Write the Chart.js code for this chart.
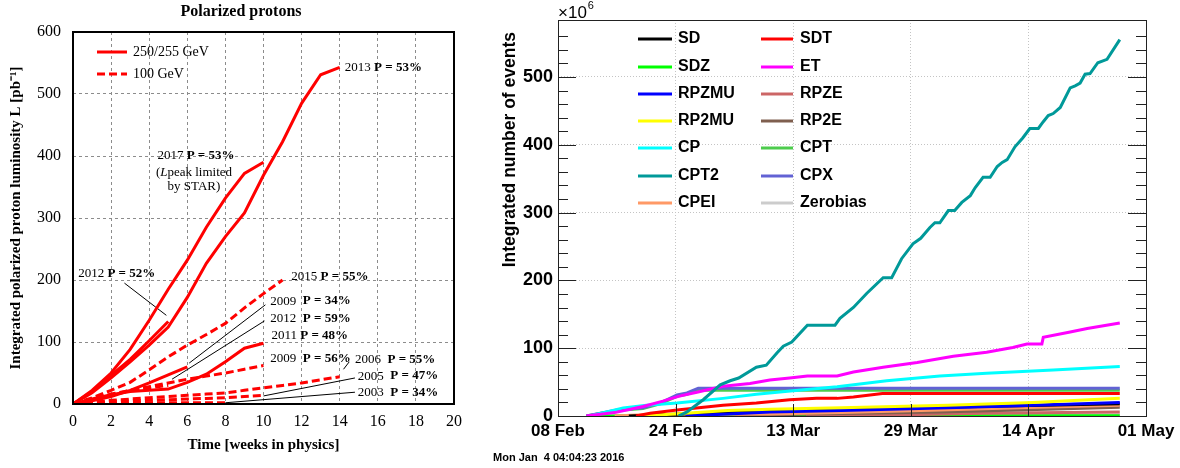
<!DOCTYPE html>
<html>
<head>
<meta charset="utf-8">
<script src="https://cdn.jsdelivr.net/npm/chart.js@4.4.1/dist/chart.umd.min.js"></script>
<style>
  body { margin: 0; background: #fff; width: 1180px; height: 468px; overflow: hidden; position: relative; }
  canvas { position: absolute; top: 0; }
  #lumi { left: 0; }
  #events { left: 470px; }
</style>
</head>
<body>
<canvas id="lumi" width="470" height="468"></canvas>
<canvas id="events" width="710" height="468"></canvas>
<script>
// ---- left panel: integrated luminosity [pb^-1] vs weeks in physics ----
var weeks = [0, 1, 2, 3, 4, 5, 6, 7, 8, 9, 10, 11, 12, 13, 14];

// 250/255 GeV runs (solid)
var run2013 = [0, 18, 42, 68, 95, 124, 172, 227, 270, 308, 369, 423, 485, 531, 543];
var run2017 = [0, 22, 50, 88, 135, 185, 232, 285, 332, 372, 390];
var run2012 = [0, 20, 46, 72, 102, 133];
var run2011 = [0, 8, 15, 20, 22, 24, 35, 48, 68, 90, 98];
var run2009 = [0, 5, 12, 22, 34, 47, 60];

// 100 GeV runs (dashed)
var run2015 = [0, 10, 22, 35, 55, 76, 95, 112, 130, 155, 178, 200];
var run2012b = [0, 8, 16, 22, 26, 30];
var run2009b = [0, 6, 14, 22, 28, 34, 40, 45, 50, 56, 62];
var run2006 = [0, 3, 6, 8, 10, 12, 14, 16, 18, 22, 26, 30, 34, 39, 44];
var run2005 = [0, 2, 4, 5, 6, 7, 8, 9, 10, 12, 14];
var run2003 = [0, 1, 1, 1, 2, 2, 2, 2, 2];

// ---- right panel: integrated number of events (x10^6), days since 08 Feb ----
var dateTicks = [0, 16.6, 33.2, 49.8, 66.4, 83];
var dateLabels = ['08 Feb', '24 Feb', '13 Mar', '29 Mar', '14 Apr', '01 May'];

var sd = [[10, 0], [20, 4], [35, 9], [50, 12], [65, 15], [79.3, 18]];
var sdt = [[11, 0], [13, 4], [16.8, 9], [23.3, 16], [28, 19], [32.7, 24], [36.5, 26], [39.4, 26], [41.7, 28], [45.8, 33], [79.3, 33]];
var sdz = [[4, 0], [79.3, 0.5]];
var et = [[4, 0], [8, 5], [12, 14], [14.8, 22], [17, 29], [19.6, 35], [23.3, 44], [27.1, 48], [29.9, 53], [32.7, 56], [35.2, 59],
          [39.4, 59], [41.7, 65], [45.9, 72], [50.7, 79], [55.8, 88], [60.5, 94], [64.2, 101], [66.2, 106], [68.3, 106],
          [68.5, 116], [72.3, 124], [74.7, 129], [79.3, 137]];
var rpzmu = [[18, 0], [24, 3], [29.9, 6], [40, 8], [55, 12], [65, 15], [79.3, 20]];
var rpze = [[35, 0], [50, 2], [60, 4], [79.3, 6]];
var rp2mu = [[12, 0], [18, 4], [24, 8], [29.9, 10], [40, 12], [55, 16], [67, 20], [79.3, 26]];
var rp2e = [[25, 0], [35, 3], [54, 6], [65, 9], [79.3, 13]];
var cp = [[4.5, 0], [9.2, 12], [12.5, 16], [16.8, 19], [23.3, 26], [28, 32], [32.8, 37], [39.4, 43], [46.4, 52], [53.9, 59],
          [60.5, 63], [69.9, 68], [79.3, 73]];
var cpt = [[4, 0], [8.3, 8], [12, 11], [14.4, 18], [16.8, 29], [18.2, 32], [19.8, 38], [79.3, 38]];
var cpt2 = [[17, 0], [18.2, 6], [20.5, 24], [22.9, 46], [24.3, 52], [25.5, 56], [28, 72], [29.4, 75], [30.9, 93], [31.8, 103],
            [33, 109], [35.2, 134], [39.1, 134], [39.8, 144], [41.7, 160], [43.6, 181], [45.9, 204], [47.1, 204], [48.5, 232],
            [50.1, 254], [51.2, 262], [52.5, 278], [53.2, 285], [53.9, 285], [55.1, 303], [56, 303], [57, 315], [58.2, 325],
            [58.9, 337], [60, 352], [61, 352], [62, 368], [62.7, 374], [63.4, 378], [64.5, 397], [65.6, 410], [66.6, 424],
            [67.8, 424], [68.5, 434], [69.2, 443], [69.9, 446], [70.9, 455], [72.3, 484], [73, 487], [73.7, 491], [74.4, 504],
            [75.1, 505], [76.2, 521], [77.5, 526], [79.3, 555]];
var cpx = [[4, 0], [8.3, 9], [12, 12], [14.4, 19], [16.8, 31], [18.2, 34], [19.8, 41], [79.3, 41]];
var cpei = [[8, 0], [12, 2], [30, 3], [40, 5], [54, 9], [65, 12], [79.3, 16]];
var zerobias = [[4, 0], [40, 1], [79.3, 2]];

var serif = '"Liberation Serif", "Times New Roman", serif';
var sans = '"Liberation Sans", Arial, Helvetica, sans-serif';

function pts(xs, ys) {
    return ys.map(function(v, i) { return {x: xs[i], y: v}; });
}
function pairs(list) {
    return list.map(function(p) { return {x: p[0], y: p[1]}; });
}
function isMult(v, step) {
    return Math.abs(v / step - Math.round(v / step)) < 1e-6;
}

// draw a row of text pieces with different fonts
function drawRuns(ctx, runs, x, y, align) {
    var total = 0;
    runs.forEach(function(r) { ctx.font = r[1]; total += ctx.measureText(r[0]).width; });
    var cx = align === 'center' ? x - total / 2 : x;
    ctx.textAlign = 'left';
    ctx.textBaseline = 'middle';
    runs.forEach(function(r) {
        ctx.font = r[1];
        ctx.fillText(r[0], cx, y);
        cx += ctx.measureText(r[0]).width;
    });
}

// ================= left chart =================
var R = '13px ' + serif, B = 'bold 13px ' + serif, I = 'italic 13px ' + serif;

var notes = [
    {x: 14.27, y: 542, runs: [['2013 ', R], ['P = 53%', B]]},
    {x: 4.43, y: 400, runs: [['2017 ', R], ['P = 53%', B]]},
    {x: 6.35, y: 374, center: true, runs: [['(', R], ['L', I], ['peak limited', R]]},
    {x: 6.35, y: 350, center: true, runs: [['by STAR)', R]]},
    {x: 0.27, y: 210, runs: [['2012 ', R], ['P = 52%', B]]},
    {x: 11.46, y: 206, runs: [['2015 ', R], ['P = 55%', B]]},
    {x: 10.36, y: 166, runs: [['2009  ', R], ['P = 34%', B]]},
    {x: 10.36, y: 137, runs: [['2012  ', R], ['P = 59%', B]]},
    {x: 10.42, y: 110, runs: [['2011 ', R], ['P = 48%', B]]},
    {x: 10.36, y: 73, runs: [['2009  ', R], ['P = 56%', B]]},
    {x: 14.8, y: 71, runs: [['2006  ', R], ['P = 55%', B]]},
    {x: 14.95, y: 45, runs: [['2005  ', R], ['P = 47%', B]]},
    {x: 14.95, y: 18, runs: [['2003  ', R], ['P = 34%', B]]}
];

// pointer lines from labels to curves [x1, y1, x2, y2]
var leaders = [
    [2.7, 195, 4.9, 143],
    [10.1, 160, 6.1, 66],
    [10.05, 134, 5.2, 40],
    [14.2, 56, 14.5, 68],
    [14.8, 42, 10, 13],
    [14.8, 19, 8, 2]
];

var leftSets = [];
[run2013, run2017, run2012, run2011, run2009].forEach(function(r) {
    leftSets.push({data: pts(weeks, r), borderColor: '#ff0000', borderWidth: 3, pointRadius: 0, fill: false});
});
[run2015, run2012b, run2009b, run2006, run2005, run2003].forEach(function(r) {
    leftSets.push({data: pts(weeks, r), borderColor: '#ff0000', borderWidth: 3, borderDash: [8, 4], pointRadius: 0, fill: false});
});
leaders.forEach(function(l) {
    leftSets.push({data: [{x: l[0], y: l[1]}, {x: l[2], y: l[3]}], borderColor: '#000', borderWidth: 1, pointRadius: 0, fill: false});
});

var leftDecor = {
    id: 'leftDecor',
    afterDraw: function(chart) {
        var ctx = chart.ctx, a = chart.chartArea;
        var xs = chart.scales.x, ys = chart.scales.y;
        ctx.save();
        ctx.fillStyle = '#000';

        // title
        ctx.font = 'bold 16px ' + serif;
        ctx.textAlign = 'center';
        ctx.textBaseline = 'middle';
        ctx.fillText('Polarized protons', 241, 12);

        // legend
        ctx.strokeStyle = '#ff0000';
        ctx.lineWidth = 3;
        ctx.beginPath(); ctx.moveTo(97, 52); ctx.lineTo(127, 52); ctx.stroke();
        ctx.setLineDash([8, 4]);
        ctx.beginPath(); ctx.moveTo(97, 74); ctx.lineTo(127, 74); ctx.stroke();
        ctx.setLineDash([]);
        ctx.font = '14px ' + serif;
        ctx.textAlign = 'left';
        ctx.fillText('250/255 GeV', 133, 52);
        ctx.fillText('100 GeV', 133, 74);

        // run labels
        notes.forEach(function(n) {
            drawRuns(ctx, n.runs, xs.getPixelForValue(n.x), ys.getPixelForValue(n.y), n.center ? 'center' : 'left');
        });

        // frame
        ctx.strokeStyle = '#000';
        ctx.lineWidth = 2;
        ctx.strokeRect(a.left, a.top, a.right - a.left, a.bottom - a.top);
        ctx.restore();
    }
};

new Chart(document.getElementById('lumi').getContext('2d'), {
    type: 'line',
    data: {datasets: leftSets},
    options: {
        responsive: false,
        animation: false,
        layout: {padding: {top: 32, right: 13, left: 0, bottom: 0}},
        plugins: {legend: {display: false}, tooltip: {enabled: false}},
        scales: {
            x: {
                type: 'linear', min: 0, max: 20,
                ticks: {stepSize: 2, maxRotation: 0, color: '#000', padding: 8, font: {family: serif, size: 16}},
                grid: {
                    drawTicks: false,
                    color: function(c) { var v = c.tick.value; return (v > 0 && v < 20) ? '#8c8c8c' : 'rgba(0,0,0,0)'; }
                },
                border: {display: false, dash: [3, 3]},
                title: {display: true, text: 'Time [weeks in physics]', color: '#000',
                        font: {family: serif, size: 15, weight: 'bold'}, padding: {top: 0, bottom: 14}},
                afterFit: function(s) { s.height = 64; }
            },
            y: {
                min: 0, max: 600,
                ticks: {stepSize: 100, color: '#000', padding: 12, font: {family: serif, size: 16}},
                grid: {
                    drawTicks: false,
                    color: function(c) { var v = c.tick.value; return (v > 0 && v < 600) ? '#8c8c8c' : 'rgba(0,0,0,0)'; }
                },
                border: {display: false, dash: [3, 3]},
                title: {display: true, text: 'Integrated polarized proton luminosity L [pb\u207B\u00B9]', color: '#000',
                        font: {family: serif, size: 15, weight: 'bold'}, padding: {top: 7, bottom: 0}},
                afterFit: function(s) { s.width = 73; }
            }
        }
    },
    plugins: [leftDecor]
});

// ================= right chart =================
var triggers = [
    ['SD', sd, '#000000'], ['SDT', sdt, '#ff0000'],
    ['SDZ', sdz, '#00ff00'], ['ET', et, '#ff00ff'],
    ['RPZMU', rpzmu, '#0000ff'], ['RPZE', rpze, '#cc6666'],
    ['RP2MU', rp2mu, '#ffff00'], ['RP2E', rp2e, '#7f5f4f'],
    ['CP', cp, '#00ffff'], ['CPT', cpt, '#4dcc4d'],
    ['CPT2', cpt2, '#009999'], ['CPX', cpx, '#6262d4'],
    ['CPEI', cpei, '#ff9966'], ['Zerobias', zerobias, '#cccccc']
];
// which line ends up on top (first = topmost)
var drawOrder = ['CPT2', 'ET', 'CP', 'CPX', 'CPT', 'SDT', 'RP2MU', 'RPZMU', 'SD', 'CPEI', 'RP2E', 'RPZE', 'SDZ', 'Zerobias'];

var rightSets = triggers.map(function(t) {
    return {label: t[0], data: pairs(t[1]), borderColor: t[2], borderWidth: 3, pointRadius: 0, fill: false,
            order: drawOrder.indexOf(t[0])};
});

var rightDecor = {
    id: 'rightDecor',
    afterDraw: function(chart) {
        var ctx = chart.ctx, a = chart.chartArea;
        var xs = chart.scales.x, ys = chart.scales.y;
        ctx.save();
        ctx.strokeStyle = '#222';
        ctx.fillStyle = '#000';
        ctx.lineWidth = 1;

        // y tick marks on both sides (major 100, minor 20)
        ys.ticks.forEach(function(t) {
            var v = t.value;
            if (!isMult(v, 20) || v > 580) return;
            var len = isMult(v, 100) ? 18 : 10;
            var py = Math.round(ys.getPixelForValue(v)) + 0.5;
            ctx.beginPath();
            ctx.moveTo(a.left, py); ctx.lineTo(a.left + len, py);
            ctx.moveTo(a.right, py); ctx.lineTo(a.right - len, py);
            ctx.stroke();
        });
        // x tick marks
        dateTicks.forEach(function(d) {
            var px = Math.round(xs.getPixelForValue(d)) + 0.5;
            ctx.beginPath(); ctx.moveTo(px, a.bottom); ctx.lineTo(px, a.bottom - 12); ctx.stroke();
        });

        // frame
        ctx.strokeRect(Math.round(a.left) + 0.5, Math.round(a.top) + 0.5, Math.round(a.right - a.left), Math.round(a.bottom - a.top));

        // axis title
        ctx.save();
        ctx.translate(40, 32);
        ctx.rotate(-Math.PI / 2);
        ctx.font = 'bold 17.5px ' + sans;
        ctx.textAlign = 'right';
        ctx.textBaseline = 'middle';
        ctx.fillText('Integrated number of events', 0, 0);
        ctx.restore();

        // exponent
        ctx.font = '17px ' + sans;
        ctx.textAlign = 'left';
        ctx.textBaseline = 'middle';
        ctx.fillText('\u00D710', a.left, 13);
        var w = ctx.measureText('\u00D710').width;
        ctx.font = '11px ' + sans;
        ctx.fillText('6', a.left + w + 1, 6);

        // legend
        var rowY = [39, 67, 94, 121, 148, 176, 203];
        triggers.forEach(function(t, i) {
            var col = i % 2, y = rowY[Math.floor(i / 2)];
            var x0 = col === 0 ? 168 : 291, x1 = col === 0 ? 202 : 323, tx = col === 0 ? 208 : 330;
            ctx.strokeStyle = t[2];
            ctx.lineWidth = 3;
            ctx.beginPath(); ctx.moveTo(x0, y); ctx.lineTo(x1, y); ctx.stroke();
            ctx.font = 'bold 16px ' + sans;
            ctx.fillText(t[0], tx, y);
        });

        // time stamp
        ctx.font = 'bold 11px ' + sans;
        ctx.fillText('Mon Jan  4 04:04:23 2016', 23, 458);
        ctx.restore();
    }
};

new Chart(document.getElementById('events').getContext('2d'), {
    type: 'line',
    data: {datasets: rightSets},
    options: {
        responsive: false,
        animation: false,
        layout: {padding: {top: 20, right: 34, left: 0, bottom: 0}},
        plugins: {legend: {display: false}, tooltip: {enabled: false}},
        scales: {
            x: {
                type: 'linear', min: 0, max: 83,
                afterBuildTicks: function(s) { s.ticks = dateTicks.map(function(d) { return {value: d}; }); },
                ticks: {
                    autoSkip: false, maxRotation: 0, color: '#000', padding: 5,
                    font: {family: sans, size: 17, weight: 'bold'},
                    callback: function(v, i) { return dateLabels[i]; }
                },
                grid: {
                    drawTicks: false,
                    color: function(c) { var v = c.tick.value; return (v > 0 && v < 83) ? '#c4c4c4' : 'rgba(0,0,0,0)'; }
                },
                border: {display: false, dash: [1, 2]},
                afterFit: function(s) { s.height = 52; }
            },
            y: {
                min: 0, max: 584,
                ticks: {
                    stepSize: 20, autoSkip: false, color: '#000', padding: 5, font: {family: sans, size: 18, weight: 'bold'},
                    callback: function(v) { return (isMult(v, 100) && v <= 500) ? Math.round(v) : ''; }
                },
                grid: {
                    drawTicks: false,
                    color: function(c) {
                        var v = c.tick.value;
                        return (v > 0 && isMult(v, 100) && v <= 500) ? '#c4c4c4' : 'rgba(0,0,0,0)';
                    }
                },
                border: {display: false, dash: [1, 2]},
                afterFit: function(s) { s.width = 88; }
            }
        }
    },
    plugins: [rightDecor]
});
</script>
</body>
</html>
